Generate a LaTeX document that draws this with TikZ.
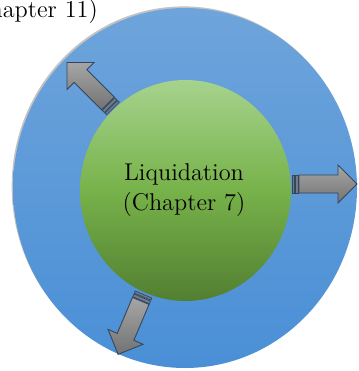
\documentclass[tikz,border=0pt]{standalone}
\usetikzlibrary{calc}
\definecolor{bluetop}{HTML}{6EA4DB}
\definecolor{bluebot}{HTML}{4A8FD6}
\definecolor{greentop}{HTML}{A6D38D}
\definecolor{greenmid}{HTML}{77B24A}
\definecolor{greenbot}{HTML}{527F31}
\definecolor{arrowline}{HTML}{34465A}
\definecolor{stripefill}{HTML}{6E7C8C}
\tikzset{
  arrowbody/.style={draw=arrowline,line width=0.5pt,top color=black!35,bottom color=black!55},
  arrowstripe/.style={draw=arrowline,line width=0.4pt,fill=stripefill},
  label/.style={font=\fontsize{13.8}{17}\selectfont,align=center,text=black}
}
\begin{document}
\begin{tikzpicture}[x=0.02cm,y=-0.02cm]
  \clip (0,0) rectangle (358,371);
  \coordinate (O) at (185,188);
  \coordinate (C) at (185.5,190.5);
  \coordinate (R) at (292,184);
  \coordinate (UL) at (113,108.5);
  \coordinate (D) at (143.5,294.5);
  \fill[black!40,opacity=0.6] ($(O)+(-1.3,-1.6)$) ellipse[x radius=172,y radius=180];
  \shade[top color=bluetop,bottom color=bluebot] (O) ellipse[x radius=172,y radius=180];
  \shade[top color=greentop,bottom color=greenbot,middle color=greenmid] (C) ellipse[x radius=105.5,y radius=110.5];
  \foreach \c/\a in {R/0,UL/135,D/-113}{
    \begin{scope}[shift={(\c)},rotate=\a]
      \draw[arrowstripe] (0,-9) rectangle (2.3,9);
      \draw[arrowstripe] (3.3,-9) rectangle (6.3,9);
      \draw[arrowbody] (7,-9)--(46,-9)--(46,-19)--(65,0)--(46,19)--(46,9)--(7,9)--cycle;
    \end{scope}
  }
  \node[label] (liq) at (184,190) {Liquidation\\(Chapter 7)};
  \node[label,anchor=base east] (reorg) at (104,18) {(Chapter 11)};
\end{tikzpicture}
\end{document}
